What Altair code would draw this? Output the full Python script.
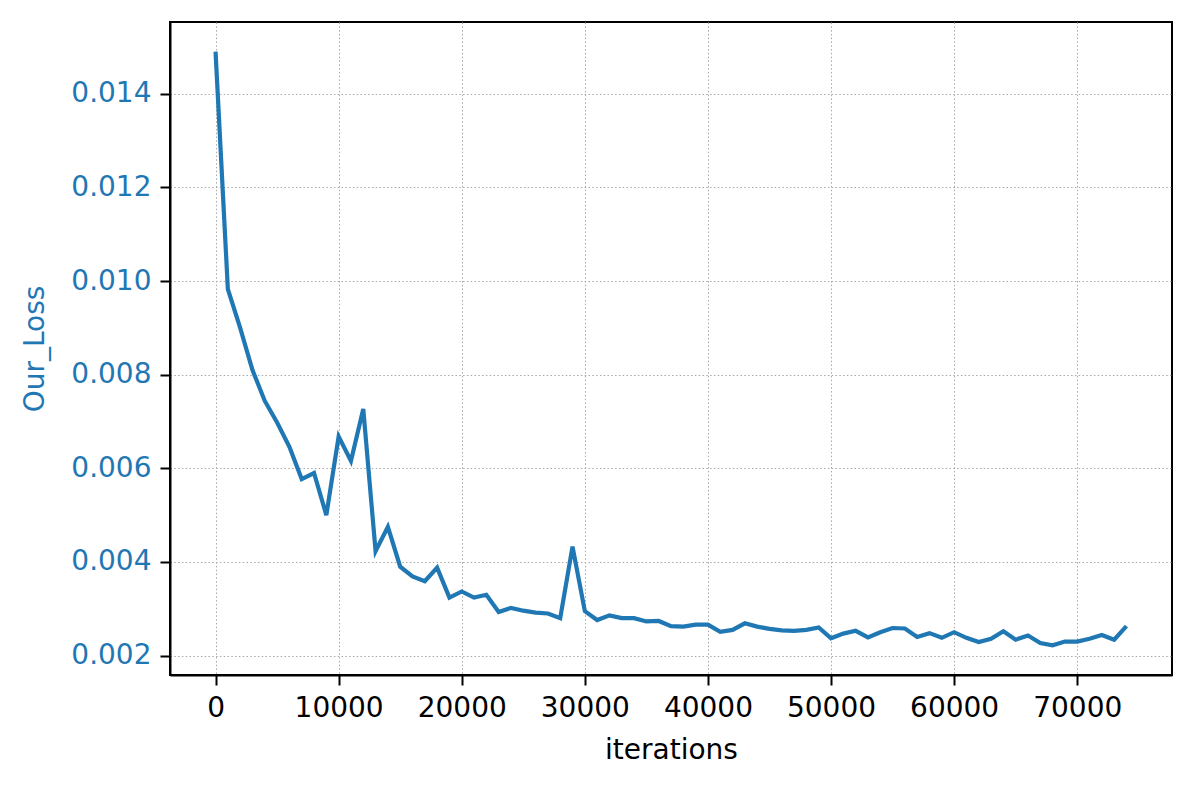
import altair as alt
import pandas as pd

iterations = list(range(0, 75000, 1000))
loss = [
    0.01490, 0.00983, 0.00900, 0.00810, 0.00744, 0.00698, 0.00646, 0.00577, 0.00590, 0.00500,
    0.00668, 0.00616, 0.00727, 0.00423, 0.00475, 0.00390, 0.00369, 0.00359, 0.00388, 0.00324,
    0.00337, 0.00324, 0.00330, 0.00293, 0.00302, 0.00296, 0.00292, 0.00290, 0.00280, 0.00433,
    0.00295, 0.00276, 0.00286, 0.00280, 0.00280, 0.00273, 0.00274, 0.00263, 0.00262, 0.00266,
    0.00266, 0.00251, 0.00255, 0.00269, 0.00262, 0.00257, 0.00254, 0.00253, 0.00255, 0.00260,
    0.00237, 0.00247, 0.00253, 0.00239, 0.00250, 0.00259, 0.00258, 0.00240, 0.00248, 0.00238,
    0.00250, 0.00238, 0.00229, 0.00236, 0.00252, 0.00234, 0.00243, 0.00227, 0.00222, 0.00230,
    0.00230, 0.00236, 0.00244, 0.00234, 0.00263,
]
x_ticks = [0, 10000, 20000, 30000, 40000, 50000, 60000, 70000]
y_ticks = [0.002, 0.004, 0.006, 0.008, 0.010, 0.012, 0.014]

df = pd.DataFrame({"iterations": iterations, "loss": loss})

blue = "#1f77b4"
font = "DejaVu Sans"

xmin, xmax = min(iterations), max(iterations)
ymin, ymax = min(loss), max(loss)
xm = (xmax - xmin) * 0.05
ym = (ymax - ymin) * 0.05

chart = alt.Chart(df).mark_line(color=blue, strokeWidth=4.2, strokeJoin="miter", clip=True).encode(
    x=alt.X(
        "iterations:Q",
        scale=alt.Scale(domain=[xmin - xm, xmax + xm], nice=False, zero=False),
        axis=alt.Axis(
            title="iterations",
            values=x_ticks,
            format="d",
            labelColor="black",
            titleColor="black",
        ),
    ),
    y=alt.Y(
        "loss:Q",
        scale=alt.Scale(domain=[ymin - ym, ymax + ym], nice=False, zero=False),
        axis=alt.Axis(
            title="Our_Loss",
            values=y_ticks,
            format=".3f",
            labelColor=blue,
            titleColor=blue,
            titlePadding=21,
        ),
    ),
).properties(
    width=1002,
    height=653,
    autosize=alt.AutoSizeParams(type="none"),
    padding={"left": 162, "top": 14, "right": 8, "bottom": 100},
).configure_view(
    stroke="black", strokeWidth=2
).configure_axis(
    labelFont=font,
    titleFont=font,
    labelFontSize=28,
    titleFontSize=28,
    titleFontWeight="normal",
    tickSize=10,
    tickWidth=2,
    tickColor="black",
    labelPadding=9,
    domainColor="black",
    domainWidth=2,
    grid=True,
    gridColor="#a8a8a8",
    gridWidth=1,
    gridDash=[1.5, 2.3],
).configure_axisX(
    titlePadding=14,
)

chart.save("out.html", embed_options={"renderer": "svg", "actions": False})
